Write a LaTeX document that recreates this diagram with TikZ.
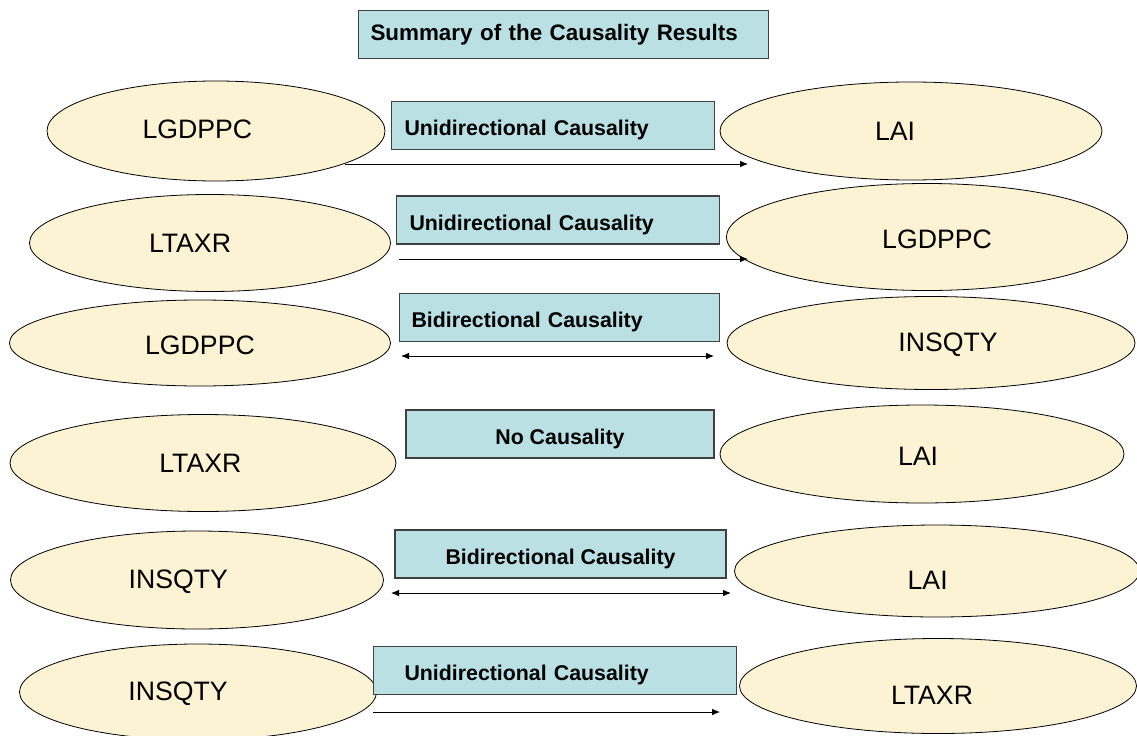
\documentclass[tikz,border=0pt]{standalone}
\usepackage{fontspec}
\setmainfont{Liberation Sans}
\usetikzlibrary{shapes.geometric}
\usetikzlibrary{arrows.meta}
\definecolor{lightcream}{rgb}{0.99,0.95,0.83}
\definecolor{lightteal}{rgb}{0.73,0.88,0.89}
\definecolor{boxline}{rgb}{0.25,0.25,0.25}
\newdimen\px
\px=0.75pt
\tikzset{
  varblob/.style={ellipse,draw=black,fill=lightcream,line width=0.6pt,inner sep=0pt},
  varname/.style={font=\fontsize{20}{24}\selectfont},
  causebox/.style={rectangle,draw=boxline,fill=lightteal,line width=0.8pt,
    minimum height=48\px,inner ysep=0pt,font=\bfseries\fontsize{16}{19}\selectfont,
    text height=15.5pt,text depth=0pt},
  causearrow/.style={line width=0.7pt,-{Latex[length=6pt,width=5pt]}},
  botharrow/.style={line width=0.7pt,{Latex[length=6pt,width=5pt]}-{Latex[length=6pt,width=5pt]}}
}
\begin{document}
\begin{tikzpicture}[x=0.75pt,y=-0.75pt]
  \useasboundingbox (0,0) rectangle (1137,735);
  \clip (0,0) rectangle (1137,735);

  % title
  \node[causebox,anchor=west,text width=386\px,align=left,inner xsep=12\px,
    font=\bfseries\fontsize{16.8}{20}\selectfont,text height=,text depth=] (title) at (358,34.5) {Summary of the Causality Results};

  % row 1
  \node[varblob,minimum width=338\px,minimum height=100\px,
    label={[varname,xshift=-14pt,yshift=1.5pt]center:LGDPPC}] (l1) at (216,131) {};
  \node[causebox,anchor=west,text width=297\px,align=left,inner xsep=13\px] (c1) at (391,125.5) {Unidirectional Causality};
  \node[varblob,minimum width=382\px,minimum height=98\px,
    label={[varname,xshift=-12pt]center:LAI}] (r1) at (911,131) {};
  \coordinate (a1s) at (345,164);
  \coordinate (a1e) at (748,164);
  \draw[causearrow] (a1s) -- (a1e);

  % row 2
  \node[varblob,minimum width=361\px,minimum height=97\px,
    label={[varname,xshift=-15pt]center:LTAXR}] (l2) at (210,243) {};
  \node[causebox,anchor=west,text width=297\px,align=left,inner xsep=13\px] (c2) at (396,220) {Unidirectional Causality};
  \node[varblob,minimum width=401\px,minimum height=107\px,
    label={[varname,xshift=7.5pt,yshift=-1.5pt]center:LGDPPC}] (r2) at (927,237) {};
  \coordinate (a2s) at (399,259);
  \coordinate (a2e) at (748,259);
  \draw[causearrow] (a2s) -- (a2e);

  % row 3
  \node[varblob,minimum width=381\px,minimum height=86\px,
    label={[varname,yshift=-1.5pt]center:LGDPPC}] (l3) at (200,343) {};
  \node[causebox,anchor=west,text width=296\px,align=left,inner xsep=12\px] (c3) at (399,317.5) {Bidirectional Causality};
  \node[varblob,minimum width=408\px,minimum height=93\px,
    label={[varname,xshift=12.75pt,yshift=-1.5pt]center:INSQTY}] (r3) at (931,343) {};
  \coordinate (a3s) at (401,356);
  \coordinate (a3e) at (714,356);
  \draw[botharrow] (a3s) -- (a3e);

  % row 4
  \node[varblob,minimum width=386\px,minimum height=97\px,
    label={[varname,xshift=-2pt]center:LTAXR}] (l4) at (203,463) {};
  \node[causebox,minimum width=308\px] (c4) at (560,434) {No Causality};
  \node[varblob,minimum width=404\px,minimum height=98\px,
    label={[varname,xshift=-3pt,yshift=-2pt]center:LAI}] (r4) at (922,454) {};

  % row 5
  \node[varblob,minimum width=373\px,minimum height=98\px,
    label={[varname,xshift=-14pt,yshift=-1pt]center:INSQTY}] (l5) at (197,580) {};
  \node[causebox,minimum width=331\px] (c5) at (560.5,554) {Bidirectional Causality};
  \node[varblob,minimum width=405\px,minimum height=92\px,
    label={[varname,xshift=-7pt,yshift=-6.75pt]center:LAI}] (r5) at (937,571) {};
  \coordinate (a5s) at (391,593);
  \coordinate (a5e) at (731,593);
  \draw[botharrow] (a5s) -- (a5e);

  % row 6
  \node[varblob,minimum width=357\px,minimum height=96\px,
    label={[varname,xshift=-15pt,yshift=-1pt]center:INSQTY}] (l6) at (198,692) {};
  \node[causebox,anchor=west,text width=301\px,align=left,inner xsep=31\px] (c6) at (373,670.5) {Unidirectional Causality};
  \node[varblob,minimum width=397\px,minimum height=95\px,
    label={[varname,xshift=-4.5pt,yshift=-6.75pt]center:LTAXR}] (r6) at (938,686) {};
  \coordinate (a6s) at (373,712);
  \coordinate (a6e) at (720,712);
  \draw[causearrow] (a6s) -- (a6e);
\end{tikzpicture}
\end{document}
